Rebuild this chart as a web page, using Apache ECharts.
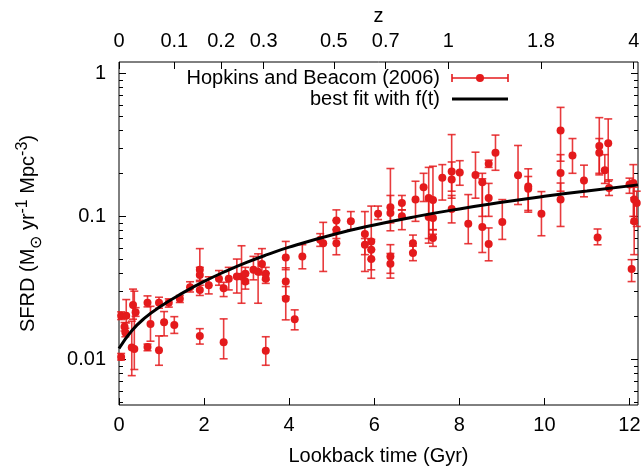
<!DOCTYPE html>
<html><head><meta charset="utf-8">
<script src="https://cdn.jsdelivr.net/npm/echarts@6/dist/echarts.min.js"></script>
<style>html,body{margin:0;padding:0;background:#fff}#c{width:644px;height:472px}</style>
</head><body><div id="c"></div>
<script>
// Hopkins and Beacom (2006) data: lookback time (Gyr), SFRD and error range
const lookbackTime = [0.05,0.05,0.17,0.13,0.15,0.30,0.36,0.33,0.39,0.67,0.67,0.74,0.94,0.94,1.06,1.17,1.30,1.43,1.67,1.90,1.90,1.90,1.90,2.11,2.35,2.46,2.46,2.58,2.77,2.88,2.97,2.97,3.16,3.27,3.36,3.45,3.45,3.45,3.92,3.92,3.92,4.13,4.31,4.73,4.80,5.11,5.11,5.11,5.45,5.78,5.78,5.93,5.93,5.93,6.09,6.38,6.38,6.38,6.38,6.65,6.65,6.91,6.91,6.97,7.16,7.28,7.28,7.38,7.38,7.38,7.60,7.82,7.82,7.82,8.01,8.21,8.38,8.54,8.54,8.69,8.69,8.69,8.85,9.01,9.38,9.62,9.62,9.93,10.38,10.38,10.38,10.66,10.93,11.25,11.29,11.29,11.42,11.50,11.52,12.00,12.09,12.11,12.17,12.11,12.05];
const sfrd = [0.0104,0.0202,0.0202,0.0169,0.0154,0.0121,0.0118,0.0240,0.0214,0.0249,0.0122,0.0177,0.0249,0.0116,0.0182,0.0249,0.0174,0.0265,0.0320,0.0424,0.0389,0.0306,0.0146,0.0330,0.0366,0.0315,0.0132,0.0366,0.0380,0.0380,0.0397,0.0350,0.0424,0.0410,0.0464,0.0397,0.0366,0.0115,0.0516,0.0350,0.0265,0.0191,0.0525,0.0687,0.0650,0.0937,0.0807,0.0650,0.0923,0.0753,0.0634,0.0668,0.0585,0.0503,0.1043,0.1160,0.1055,0.0525,0.0466,0.1240,0.1000,0.0650,0.0555,0.1310,0.1596,0.1346,0.0991,0.1300,0.0974,0.0706,0.1860,0.2060,0.1810,0.1127,0.2030,0.0888,0.1950,0.1730,0.0843,0.2330,0.1346,0.0641,0.2780,0.0913,0.1940,0.1620,0.1560,0.1044,0.3990,0.2010,0.1310,0.2660,0.1780,0.0713,0.3100,0.2780,0.2100,0.3240,0.1580,0.1670,0.1710,0.1310,0.1240,0.0923,0.0428];
const sfrdLow = [0.0099,0.0190,0.0180,0.0158,0.0144,0.0077,0.0085,0.0191,0.0200,0.0233,0.0115,0.0134,0.0228,0.0091,0.0146,0.0232,0.0152,0.0250,0.0296,0.0357,0.0350,0.0280,0.0128,0.0287,0.0330,0.0275,0.0101,0.0306,0.0291,0.0247,0.0340,0.0310,0.0360,0.0247,0.0390,0.0360,0.0340,0.0091,0.0424,0.0275,0.0189,0.0161,0.0430,0.0617,0.0412,0.0807,0.0700,0.0539,0.0807,0.0412,0.0540,0.0369,0.0500,0.0423,0.0950,0.0793,0.0900,0.0370,0.0400,0.1110,0.0807,0.0560,0.0490,0.0923,0.1270,0.0700,0.0650,0.0807,0.0750,0.0617,0.1300,0.1500,0.1340,0.0900,0.1650,0.0644,0.1340,0.1000,0.0559,0.2200,0.1000,0.0489,0.2100,0.0690,0.1210,0.1070,0.1100,0.0732,0.2430,0.1500,0.0850,0.2000,0.1370,0.0633,0.1950,0.2000,0.1700,0.1760,0.1400,0.1450,0.1000,0.0900,0.0850,0.0540,0.0350];
const sfrdHigh = [0.0110,0.0215,0.0262,0.0181,0.0165,0.0185,0.0300,0.0310,0.0230,0.0278,0.0128,0.0235,0.0272,0.0146,0.0216,0.0265,0.0199,0.0280,0.0349,0.0595,0.0440,0.0330,0.0164,0.0378,0.0418,0.0346,0.0192,0.0440,0.0503,0.0623,0.0440,0.0400,0.0525,0.0547,0.0595,0.0440,0.0400,0.0144,0.0668,0.0437,0.0323,0.0222,0.0634,0.0757,0.0908,0.1110,0.0937,0.0765,0.1080,0.1080,0.0700,0.1180,0.0690,0.0585,0.1180,0.2160,0.1400,0.0634,0.0550,0.1400,0.1110,0.0740,0.0620,0.1760,0.2000,0.2200,0.1300,0.2240,0.1300,0.0807,0.2300,0.3730,0.2400,0.1400,0.2450,0.1420,0.2810,0.2000,0.1830,0.2470,0.1700,0.0830,0.3700,0.1310,0.3130,0.2150,0.1900,0.1490,0.5780,0.2700,0.1710,0.3500,0.2280,0.0816,0.4900,0.3500,0.2700,0.4800,0.1800,0.1850,0.2300,0.1600,0.1500,0.1350,0.0498];
// best fit curve f(t)
const fitTime = [0,0.3,0.6,1.0,1.5,2.0,2.5,3.0,3.5,4.0,5.0,6.0,7.0,8.0,9.0,10.0,11.0,12.2];
const fitSfrd = [0.01191,0.01585,0.01941,0.02371,0.02917,0.03508,0.04121,0.04764,0.05420,0.06095,0.07413,0.08710,0.1000,0.1127,0.1253,0.1380,0.1507,0.1660];
// ticks
const xTicks = [0,2,4,6,8,10,12];
const yTicks = [0.01,0.1,1];
const yMinorTicks = [0.005,0.006,0.007,0.008,0.009,0.02,0.03,0.04,0.05,0.06,0.07,0.08,0.09,0.2,0.3,0.4,0.5,0.6,0.7,0.8,0.9];
const zTickLabels = ['0','0.1','0.2','0.3','0.5','0.7','1','1.8','4'];
const zTickTimes = [0,1.3,2.4,3.4,5.05,6.27,7.74,9.92,12.1];
const seriesNames = ['Hopkins and Beacom (2006)','best fit with f(t)'];

const RED = '#e41a1c';
const FONT = "'Liberation Sans', Arial, Helvetica, sans-serif";
const X_MIN = 0, X_MAX = 12.2, Y_MIN = 0.0048, Y_MAX = 1.2;

const points = lookbackTime.map((t,i)=>[t, sfrd[i]]);
const bars = lookbackTime.map((t,i)=>[t, sfrdLow[i], sfrdHigh[i]]);
const fit = fitTime.map((t,i)=>[t, fitSfrd[i]]);

const chart = echarts.init(document.getElementById('c'), null, {renderer:'canvas'});
const fmtNum = v => String(Number(Number(v).toPrecision(4)));
function yAxisDef(pos, ticks, len, extra){
  return Object.assign({
    type:'log', logBase:10, min:Y_MIN, max:Y_MAX, position:pos,
    axisLine:{show:false}, splitLine:{show:false},
    axisTick:{show:true, inside:true, length:len, customValues:ticks, lineStyle:{color:'#000', width:1}},
    axisLabel:{show:false}
  }, extra||{});
}
chart.setOption({
  animation:false,
  backgroundColor:'#fff',
  grid:{left:119, right:6, top:62, bottom:67, show:true, borderColor:'#000', borderWidth:1, containLabel:false},
  xAxis:[{
    type:'value', min:X_MIN, max:X_MAX, position:'bottom',
    axisLine:{show:false}, splitLine:{show:false},
    axisTick:{show:true, inside:true, length:7, customValues:xTicks, lineStyle:{color:'#000'}},
    axisLabel:{show:true, customValues:xTicks, color:'#000', fontSize:20, fontFamily:FONT, margin:10, formatter:v=>fmtNum(v)},
    name:'Lookback time (Gyr)', nameLocation:'middle', nameGap:41,
    nameTextStyle:{color:'#000', fontSize:20, fontFamily:FONT}
  },{
    type:'value', min:X_MIN, max:X_MAX, position:'top',
    axisLine:{show:false}, splitLine:{show:false},
    axisTick:{show:true, inside:true, length:7, customValues:zTickTimes, lineStyle:{color:'#000'}},
    axisLabel:{show:true, customValues:zTickTimes, color:'#000', fontSize:20, fontFamily:FONT, margin:11,
      formatter:function(v){let b=0;for(let i=1;i<zTickTimes.length;i++){if(Math.abs(zTickTimes[i]-v)<Math.abs(zTickTimes[b]-v))b=i;}return zTickLabels[b];}},
    name:'z', nameLocation:'middle', nameGap:35,
    nameTextStyle:{color:'#000', fontSize:20, fontFamily:FONT}
  }],
  yAxis:[
    yAxisDef('left', yTicks, 7, {
      axisLabel:{show:true, customValues:yTicks, color:'#000', fontSize:20, fontFamily:FONT, margin:13, formatter:v=>fmtNum(v)},
      name:'SFRD (M{sub|⊙} yr{sup|-1} Mpc{sup|-3})', nameLocation:'middle', nameRotate:90, nameGap:78,
      nameTextStyle:{color:'#000', fontSize:20, fontFamily:FONT, lineHeight:26,
        rich:{
          sub:{fontSize:16, fontFamily:FONT, color:'#000', verticalAlign:'bottom', lineHeight:16, padding:[0,0,-4,0]},
          sup:{fontSize:16, fontFamily:FONT, color:'#000', verticalAlign:'top', lineHeight:16}
        }}
    }),
    yAxisDef('left', yMinorTicks, 4),
    yAxisDef('right', yTicks, 7),
    yAxisDef('right', yMinorTicks, 4)
  ],
  series:[{
    type:'custom', name:seriesNames[0]+' errors', xAxisIndex:0, yAxisIndex:0, z:2,
    data:bars, encode:{x:0, y:[1,2]},
    renderItem:function(params, api){
      const t = api.value(0);
      const a = api.coord([t, api.value(1)]);
      const b = api.coord([t, api.value(2)]);
      const c = 4;
      const st = {stroke:RED, lineWidth:1.6, opacity:0.85};
      return {type:'group', children:[
        {type:'line', shape:{x1:a[0], y1:a[1], x2:b[0], y2:b[1]}, style:st},
        {type:'line', shape:{x1:a[0]-c, y1:a[1], x2:a[0]+c, y2:a[1]}, style:st},
        {type:'line', shape:{x1:b[0]-c, y1:b[1], x2:b[0]+c, y2:b[1]}, style:st}
      ]};
    }
  },{
    type:'scatter', name:seriesNames[0], xAxisIndex:0, yAxisIndex:0, z:3,
    data:points, symbol:'circle', symbolSize:8,
    itemStyle:{color:RED, opacity:1}
  },{
    type:'line', name:seriesNames[1], xAxisIndex:0, yAxisIndex:0, z:4,
    data:fit, smooth:true, showSymbol:false, symbol:'none',
    lineStyle:{color:'#000', width:3}
  }],
  graphic:[
    {type:'text', x:440, y:78, style:{text:seriesNames[0], align:'right', verticalAlign:'middle', fontSize:20, fontFamily:FONT, fill:'#000'}},
    {type:'line', shape:{x1:452, y1:78, x2:508, y2:78}, style:{stroke:RED, lineWidth:1.6}},
    {type:'line', shape:{x1:452, y1:74, x2:452, y2:82}, style:{stroke:RED, lineWidth:1.6}},
    {type:'line', shape:{x1:508, y1:74, x2:508, y2:82}, style:{stroke:RED, lineWidth:1.6}},
    {type:'circle', shape:{cx:480, cy:78, r:4}, style:{fill:RED}},
    {type:'text', x:440, y:99, style:{text:seriesNames[1], align:'right', verticalAlign:'middle', fontSize:20, fontFamily:FONT, fill:'#000'}},
    {type:'line', shape:{x1:452, y1:99, x2:508, y2:99}, style:{stroke:'#000', lineWidth:3}}
  ]
});
</script></body></html>
